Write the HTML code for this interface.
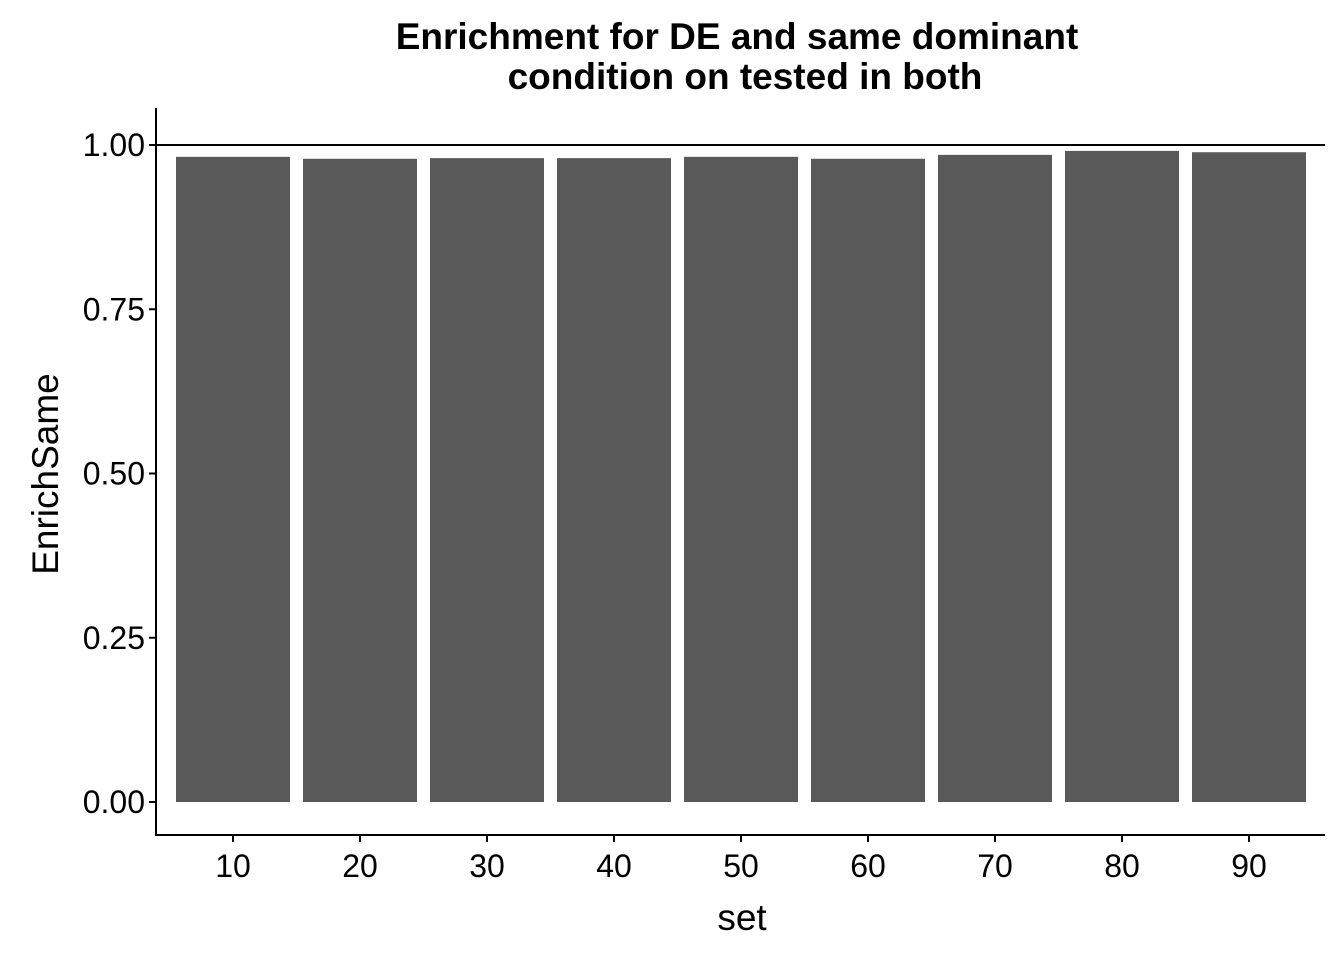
<!DOCTYPE html>
<html><head><meta charset="utf-8"><style>
body{margin:0;background:#fff;}
svg{display:block;font-family:"Liberation Sans",Arial,sans-serif;}
</style></head><body>
<svg id="chart" width="1344" height="960">
<text x="737" y="49" text-anchor="middle" font-size="37" font-weight="bold">Enrichment for DE and same dominant</text>
<text x="745" y="89" text-anchor="middle" font-size="37" font-weight="bold">condition on tested in both</text>
<g id="bars"></g>
<g id="axes"></g>
<text x="742" y="930" text-anchor="middle" font-size="37">set</text>
<text transform="translate(58,474) rotate(-90)" text-anchor="middle" font-size="37">EnrichSame</text>
</svg>
<script>
const categories=["10","20","30","40","50","60","70","80","90"];
const values=[0.982,0.979,0.980,0.980,0.982,0.979,0.985,0.991,0.989];
const yTicks=[0,0.25,0.5,0.75,1.0];
const yTickLabels=["0.00","0.25","0.50","0.75","1.00"];
const refLine=1.0;

const NS="http://www.w3.org/2000/svg";
const y=v=>802-v*657;
const x=i=>233+i*127;
const bw=114;
const bars=document.getElementById('bars'),axes=document.getElementById('axes');
function mk(tag,attrs,parent){const e=document.createElementNS(NS,tag);for(const k in attrs)e.setAttribute(k,attrs[k]);parent.appendChild(e);return e;}
categories.forEach((c,i)=>{
 const r=mk('rect',{x:x(i)-bw/2,y:y(values[i]),width:bw,height:y(0)-y(values[i]),fill:'#595959'},bars);
 
 
 const t=mk('line',{x1:x(i),x2:x(i),y1:835,y2:842,stroke:'#000','stroke-width':2},axes);
 
 
 const l=mk('text',{x:x(i),y:877,'text-anchor':'middle','font-size':32},axes);
 l.textContent=c;
 
 
});
yTicks.forEach((v,i)=>{
 const t=mk('line',{x1:149,x2:156,y1:y(v),y2:y(v),stroke:'#000','stroke-width':2},axes);
 
 
 const l=mk('text',{x:145,y:y(v)+11,'text-anchor':'end','font-size':32},axes);
 l.textContent=yTickLabels[i];
 
 
});
const h=mk('line',{x1:156,x2:1325,y1:y(refLine),y2:y(refLine),stroke:'#000','stroke-width':2},axes);


const ya=mk('line',{x1:156,x2:156,y1:108,y2:836,stroke:'#000','stroke-width':2},axes);


const xa=mk('line',{x1:155,x2:1325,y1:835,y2:835,stroke:'#000','stroke-width':2},axes);


</script>
</body></html>
